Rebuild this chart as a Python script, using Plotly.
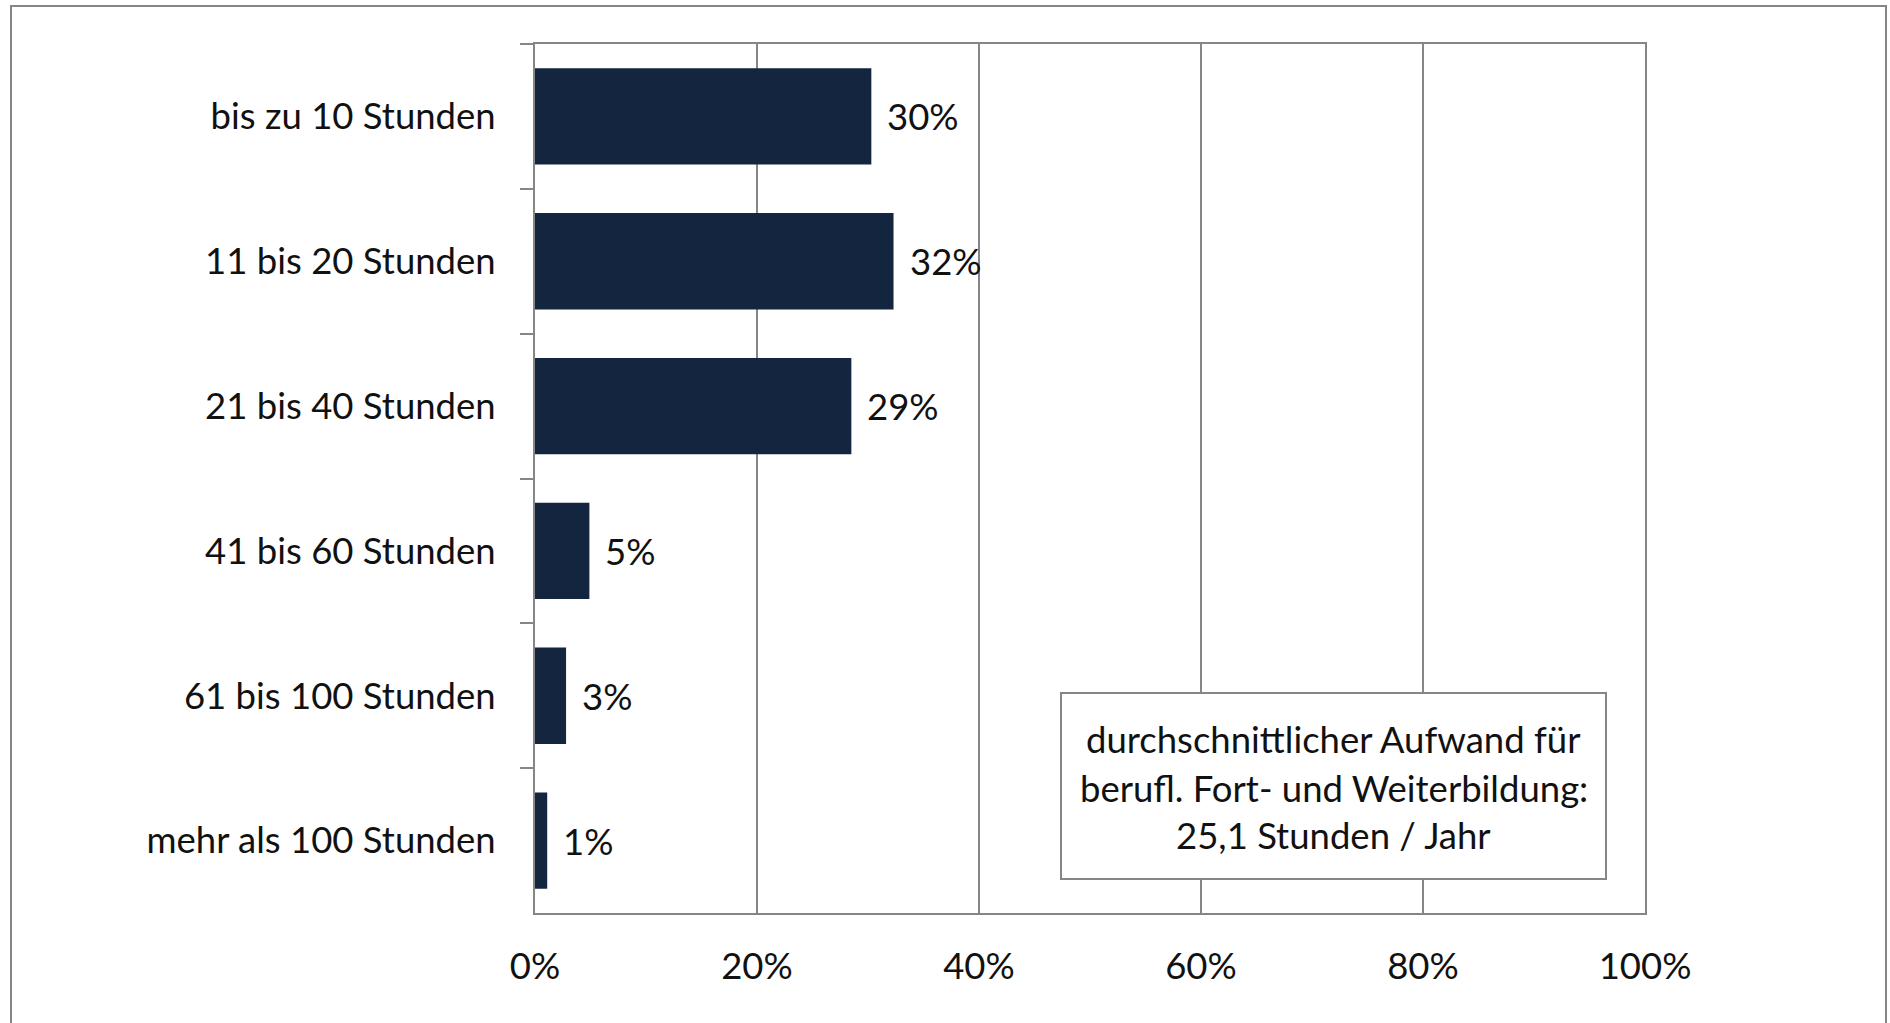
import plotly.graph_objects as go

categories = ["bis zu 10 Stunden", "11 bis 20 Stunden", "21 bis 40 Stunden",
              "41 bis 60 Stunden", "61 bis 100 Stunden", "mehr als 100 Stunden"]
values = [30.3, 32.3, 28.5, 4.9, 2.8, 1.1]
value_labels = ["30%", "32%", "29%", "5%", "3%", "1%"]
x_tickvals = [0, 20, 40, 60, 80, 100]
x_ticktext = ["0%", "20%", "40%", "60%", "80%", "100%"]
box_lines = ["durchschnittlicher Aufwand für",
             "berufl. Fort- und Weiterbildung:",
             "25,1 Stunden / Jahr"]

FONT = "Lato, 'Open Sans', sans-serif"
FS = 36.5
GRID = "#868686"
BAR = "#13253F"
TXT = "#111111"

W, H = 1890, 1023
L, R, T, B = 535, 245, 44, 110
pw, ph = W - L - R, H - T - B

def px_x(px):
    return (px - L) / pw

def px_y(py):
    return (H - B - py) / ph

fig = go.Figure()
fig.add_trace(go.Bar(
    x=values, y=categories, orientation="h",
    marker=dict(color=BAR, line=dict(width=0)),
    width=0.665, hoverinfo="skip", showlegend=False,
))

annotations = []
for c, v, t in zip(categories, values, value_labels):
    annotations.append(dict(x=v, y=c, xref="x", yref="y", text=t, showarrow=False,
                            xanchor="left", yanchor="middle", xshift=14,
                            font=dict(family=FONT, size=FS, color=TXT)))

box_cx = 100 * px_x((1061 + 1606) / 2)
for line, py in zip(box_lines, [739, 788, 835]):
    annotations.append(dict(x=box_cx, y=px_y(py), xref="x", yref="paper", text=line,
                            showarrow=False, xanchor="center", yanchor="middle",
                            font=dict(family=FONT, size=FS, color=TXT)))

shapes = [
    # outer chart border
    dict(type="rect", xref="paper", yref="paper",
         x0=px_x(11), x1=px_x(1886), y0=px_y(1030), y1=px_y(6),
         line=dict(color=GRID, width=2), fillcolor="rgba(0,0,0,0)", layer="below"),
    # info box
    dict(type="rect", xref="paper", yref="paper",
         x0=px_x(1061), x1=px_x(1606), y0=px_y(879), y1=px_y(693),
         line=dict(color=GRID, width=2), fillcolor="white", layer="above"),
]

fig.update_layout(
    width=W, height=H,
    margin=dict(l=L, r=R, t=T, b=B, pad=0),
    paper_bgcolor="white", plot_bgcolor="white",
    font=dict(family=FONT, size=FS, color=TXT),
    bargap=0.335,
    annotations=annotations,
    shapes=shapes,
    xaxis=dict(range=[0, 100], tickvals=x_tickvals, ticktext=x_ticktext,
               showgrid=True, gridcolor=GRID, gridwidth=2,
               showline=True, linecolor=GRID, linewidth=2, mirror=True,
               zeroline=False, ticks="", ticklabelstandoff=20,
               tickfont=dict(family=FONT, size=FS, color=TXT)),
    yaxis=dict(categoryorder="array", categoryarray=categories, autorange="reversed",
               showgrid=False, showline=True, linecolor=GRID, linewidth=2, mirror=True,
               ticks="outside", ticklen=13, tickwidth=2, tickcolor=GRID,
               tickson="boundaries", ticklabelstandoff=30,
               tickfont=dict(family=FONT, size=FS, color=TXT)),
)

fig.write_html("out.html", config={"displayModeBar": False},
               post_script="document.body.style.margin='0';document.body.style.overflow='hidden';")
